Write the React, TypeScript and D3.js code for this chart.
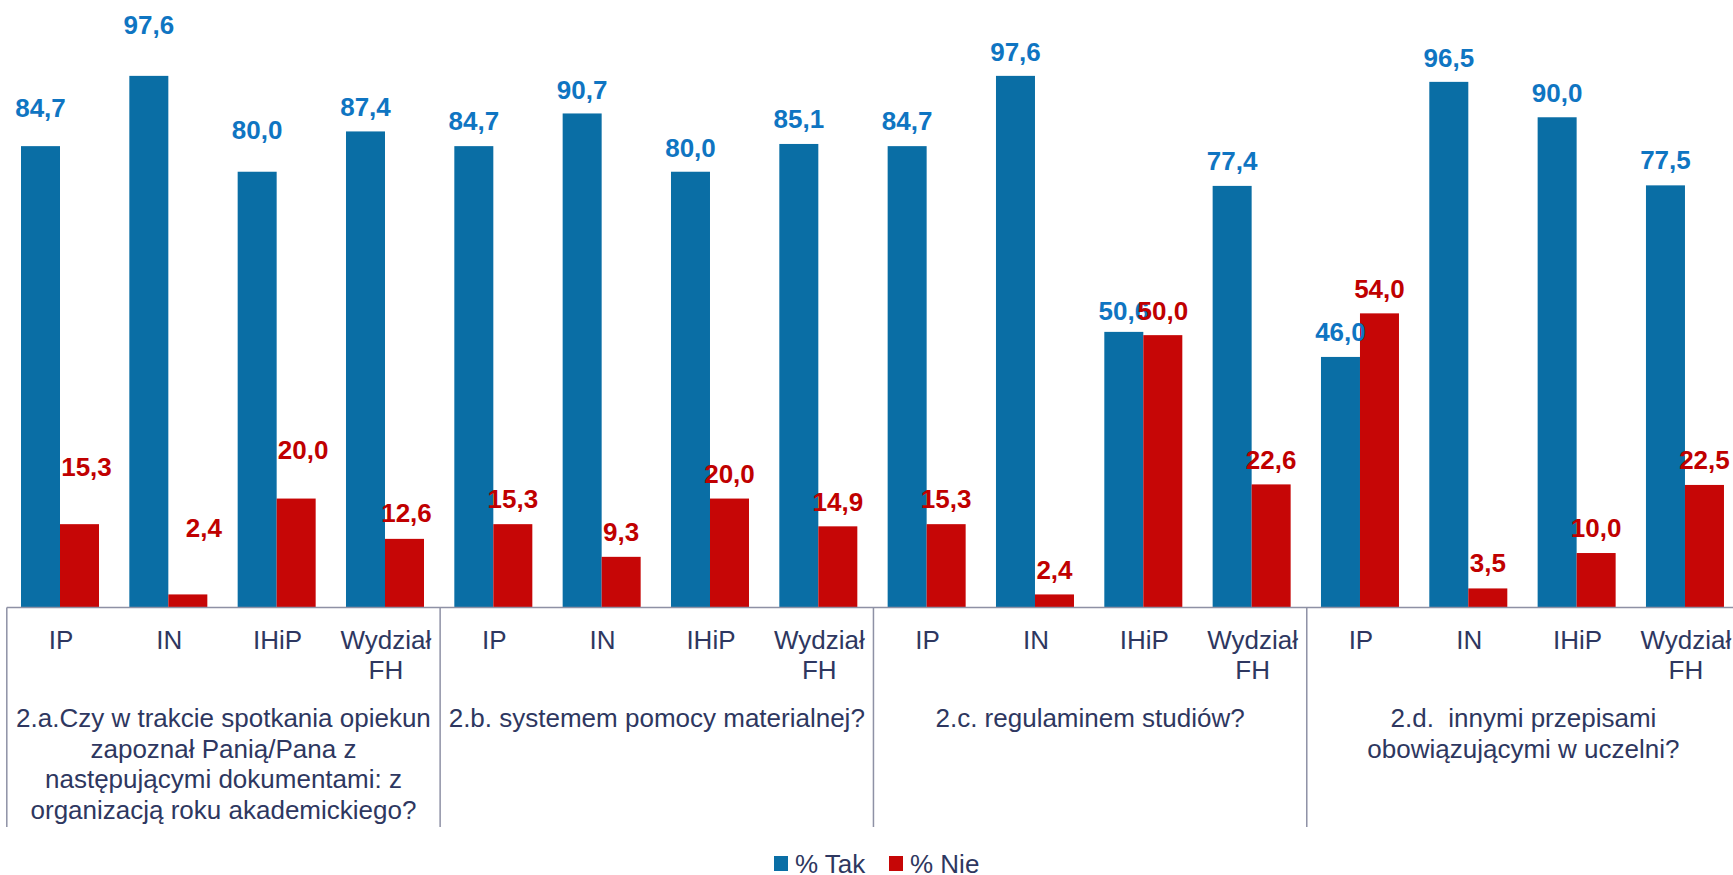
import * as d3 from "d3";

// units repeated in every question group
const units = [["IP"], ["IN"], ["IHiP"], ["Wydział", "FH"]];

const questions = [
  [
    "2.a.Czy w trakcie spotkania opiekun",
    "zapoznał Panią/Pana z",
    "następującymi dokumentami: z",
    "organizacją roku akademickiego?",
  ],
  ["2.b. systemem pomocy materialnej?"],
  ["2.c. regulaminem studiów?"],
  ["2.d.  innymi przepisami", "obowiązującymi w uczelni?"],
];

const seriesNames = ["% Tak", "% Nie"];

const tak = [84.7, 97.6, 80.0, 87.4, 84.7, 90.7, 80.0, 85.1, 84.7, 97.6, 50.6, 77.4, 46.0, 96.5, 90.0, 77.5];
const nie = [15.3, 2.4, 20.0, 12.6, 15.3, 9.3, 20.0, 14.9, 15.3, 2.4, 50.0, 22.6, 54.0, 3.5, 10.0, 22.5];

// where the (hand-placed) data labels sit, in value units
const takLabelAt = [91.7, 107.0, 87.8, 92.0, 89.4, 95.1, 84.5, 89.7, 89.3, 102.1, 54.5, 82.0, 50.6, 101.0, 94.6, 82.2];
const nieLabelAt = [25.8, 14.6, 28.9, 17.4, 20.0, 14.0, 24.6, 19.5, 20.0, 7.0, 54.5, 27.2, 58.6, 8.2, 14.6, 27.2];
const nieLabelShift = [7, 16, 7, 2, 0, 0, 0, 0, 0, 0, 0, 0, 0, 0, 0, 0];

const W = 1733;
const H = 875;
const FONT = "'Liberation Sans', Arial, sans-serif";
const TEXT = "#2E3760";
const BLUE = "#0A6EA5";
const RED = "#C60606";
const BLUE_LBL = "#0F75C2";
const RED_LBL = "#C00000";
const AXIS = "#8E91A5";

const fmt = (v: number) => v.toFixed(1).replace(".", ",");

export default function App() {
  const keys = d3.range(tak.length).map(String);
  const x = d3.scaleBand().domain(keys).range([6.8, 1740.1]).padding(0);
  const x1 = d3.scaleBand().domain(["tak", "nie"]).range([14.2, 92.2]).padding(0);
  const y = d3.scaleLinear().domain([0, 100]).range([607.5, 62.8]);
  const base = y(0);
  const step = x.step();
  const groups = questions.length;
  const perGroup = units.length;

  return (
    <div style={{ position: "absolute", left: 0, top: 0 }}>
      <svg width={W} height={H} style={{ display: "block", background: "#fff" }} fontFamily={FONT}>
        {/* bars */}
        {keys.map((k, i) => {
          const bx = x(k) ?? 0;
          return (
            <g key={"b" + k}>
              <rect x={bx + (x1("tak") ?? 0)} y={y(tak[i])} width={x1.bandwidth()} height={base - y(tak[i])} fill={BLUE} />
              <rect x={bx + (x1("nie") ?? 0)} y={y(nie[i])} width={x1.bandwidth()} height={base - y(nie[i])} fill={RED} />
            </g>
          );
        })}

        {/* axis line and group separators */}
        <line x1={x.range()[0]} x2={W} y1={base} y2={base} stroke={AXIS} strokeWidth={1.5} />
        {d3.range(groups + 1).map((g) => {
          const sx = x.range()[0] + g * perGroup * step;
          return <line key={"s" + g} x1={sx} x2={sx} y1={base} y2={827} stroke={AXIS} strokeWidth={1.5} />;
        })}

        {/* data labels */}
        {keys.map((k, i) => {
          const bx = x(k) ?? 0;
          const cTak = bx + (x1("tak") ?? 0) + x1.bandwidth() / 2;
          const cNie = bx + (x1("nie") ?? 0) + x1.bandwidth() / 2;
          return (
            <g key={"l" + k} fontSize={26} fontWeight="bold" textAnchor="middle">
              <text x={cTak} y={y(takLabelAt[i])} dy="0.36em" fill={BLUE_LBL}>
                {fmt(tak[i])}
              </text>
              <text x={cNie + nieLabelShift[i]} y={y(nieLabelAt[i])} dy="0.36em" fill={RED_LBL}>
                {fmt(nie[i])}
              </text>
            </g>
          );
        })}

        {/* unit labels */}
        {keys.map((k, i) => {
          const cx = (x(k) ?? 0) + step / 2;
          const lines = units[i % perGroup];
          return (
            <text key={"u" + k} x={cx} y={649} fontSize={26} fill={TEXT} textAnchor="middle">
              {lines.map((ln, j) => (
                <tspan key={j} x={cx} dy={j === 0 ? 0 : 30}>
                  {ln}
                </tspan>
              ))}
            </text>
          );
        })}

        {/* question labels */}
        {questions.map((lines, g) => {
          const cx = x.range()[0] + (g + 0.5) * perGroup * step;
          return (
            <text key={"q" + g} x={cx} y={727} fontSize={26} fill={TEXT} textAnchor="middle" style={{ whiteSpace: "pre" }}>
              {lines.map((ln, j) => (
                <tspan key={j} x={cx} dy={j === 0 ? 0 : 30.7}>
                  {ln}
                </tspan>
              ))}
            </text>
          );
        })}

        {/* legend */}
        <g fontSize={26} fill={TEXT}>
          <rect x={774} y={856} width={14} height={15} fill={BLUE} />
          <text x={795} y={873}>{seriesNames[0]}</text>
          <rect x={889} y={856} width={14} height={15} fill={RED} />
          <text x={910} y={873}>{seriesNames[1]}</text>
        </g>
      </svg>
    </div>
  );
}
